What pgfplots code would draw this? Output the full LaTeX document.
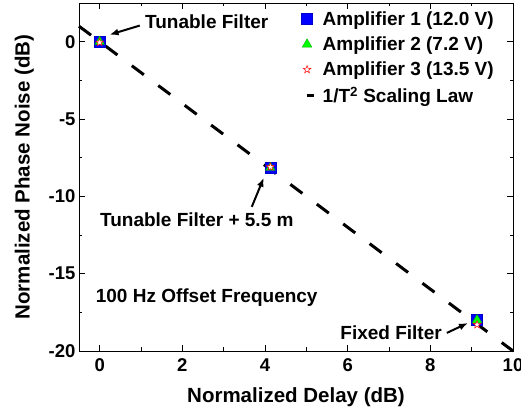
\documentclass[border=0pt]{standalone}
\usepackage{pgfplots}
\pgfplotsset{compat=1.18}
\usepackage{fontspec}
\setmainfont{Liberation Sans}
\usetikzlibrary{arrows.meta}
\pgfdeclareplotmark{fivestar}{%
  \pgfpathmoveto{\pgfpointpolar{90}{\pgfplotmarksize}}%
  \pgfpathlineto{\pgfpointpolar{126}{0.42\pgfplotmarksize}}%
  \pgfpathlineto{\pgfpointpolar{162}{\pgfplotmarksize}}%
  \pgfpathlineto{\pgfpointpolar{198}{0.42\pgfplotmarksize}}%
  \pgfpathlineto{\pgfpointpolar{234}{\pgfplotmarksize}}%
  \pgfpathlineto{\pgfpointpolar{270}{0.42\pgfplotmarksize}}%
  \pgfpathlineto{\pgfpointpolar{306}{\pgfplotmarksize}}%
  \pgfpathlineto{\pgfpointpolar{342}{0.42\pgfplotmarksize}}%
  \pgfpathlineto{\pgfpointpolar{18}{\pgfplotmarksize}}%
  \pgfpathlineto{\pgfpointpolar{54}{0.42\pgfplotmarksize}}%
  \pgfpathclose
  \pgfusepathqfillstroke}
\begin{document}
\begin{tikzpicture}
\begin{axis}[
  scale only axis,
  width=434pt, height=348pt,
  xmin=-0.5, xmax=10, ymin=-20, ymax=2.5,
  xtick={0,2,...,10}, ytick={-20,-15,...,0},
  minor xtick={1,3,5,7,9}, minor ytick={-17.5,-12.5,-7.5,-2.5,2.5},
  tick align=inside, tick pos=both,
  major tick length=6pt, minor tick length=3.5pt,
  every tick/.style={black, line width=0.8pt},
  axis line style={line width=0.9pt},
  /pgf/number format/assume math mode=true,
  ticklabel style={font=\fontsize{18.5}{20}\selectfont\bfseries},
  xticklabel style={yshift=-4pt},
  xlabel={\textbf{Normalized Delay (dB)}},
  ylabel={\textbf{Normalized Phase Noise (dB)}},
  label style={font=\fontsize{20.5}{23}\selectfont},
  xlabel style={yshift=-9pt},
  ylabel style={yshift=8pt},
  legend style={draw=none, fill=none, at={(0.963,0.985)}, anchor=north east,
    font=\fontsize{19}{21}\selectfont\bfseries, row sep=6pt,
    legend cell align=left, inner sep=1pt,
    /tikz/every odd column/.append style={column sep=5pt}},
  clip=false,
]
\addplot[only marks, mark=square*, mark size=5.5pt, mark options={fill=blue, draw=blue!80!black}]
  coordinates {(0,0) (4.13,-8.15) (9.13,-17.95)};
\addlegendentry{Amplifier 1 (12.0 V)}
\addplot[only marks, mark=triangle*, mark size=5.5pt, mark options={fill=green, draw=green!70!black}]
  coordinates {(0,0) (4.13,-8.15) (9.13,-18.0)};
\addlegendentry{Amplifier 2 (7.2 V)}
\addplot[only marks, mark=fivestar, mark size=4pt, mark options={draw=red, fill=white, line width=0.5pt}]
  coordinates {(0,-0.05) (4.13,-8.1) (9.13,-18.3)};
\addlegendentry{Amplifier 3 (13.5 V)}
\addplot[black, line width=3pt, dash pattern=on 15pt off 18pt,
  legend image code/.code={\draw[line width=3pt] (0.28cm,0cm) -- (0.55cm,0cm);}]
  coordinates {(-0.5,1) (10,-20)};
\addlegendentry{1/T$^{\mathbf{2}}$ Scaling Law}
\node[font=\fontsize{19}{21}\selectfont\bfseries] at (axis cs:2.59,1.29) {Tunable Filter};
\draw[-{Latex[length=9pt,width=7pt]}, line width=2pt] (axis cs:0.97,1.04) -- (axis cs:0.24,0.45);
\node[font=\fontsize{19}{21}\selectfont\bfseries] at (axis cs:2.35,-11.5) {Tunable Filter + 5.5 m};
\draw[-{Latex[length=9pt,width=7pt]}, line width=2pt] (axis cs:3.68,-10.68) -- (axis cs:3.97,-8.8);
\node[font=\fontsize{19}{21}\selectfont\bfseries] at (axis cs:7.05,-18.83) {Fixed Filter};
\draw[-{Latex[length=9pt,width=7pt]}, line width=2pt] (axis cs:8.40,-18.83) -- (axis cs:8.91,-18.19);
\node[font=\fontsize{19}{21}\selectfont\bfseries] at (axis cs:2.59,-16.57) {100 Hz Offset Frequency};
\end{axis}
\pgfresetboundingbox
\path ([shift={(-79pt,-60pt)}]current axis.south west) rectangle ([shift={(8pt,3pt)}]current axis.north east);
\end{tikzpicture}
\end{document}
